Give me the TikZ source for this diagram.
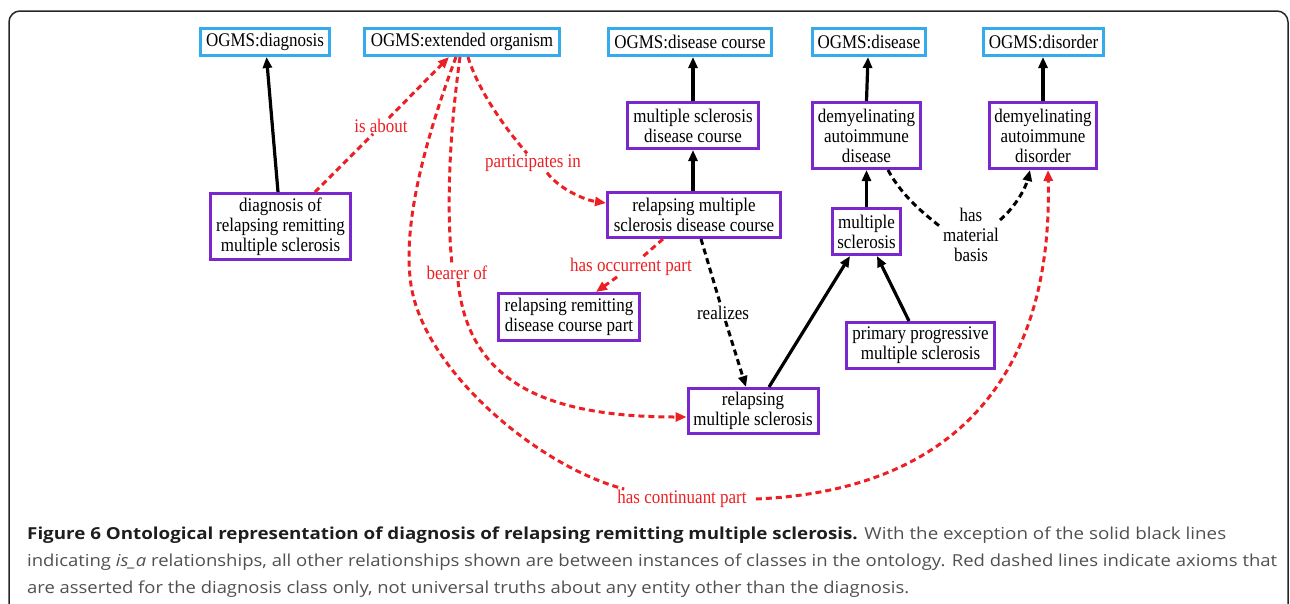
\documentclass[tikz,border=0pt]{standalone}
\usepackage{fontspec}
\setmainfont{Liberation Serif}
\newfontfamily\nodefont[FakeStretch=0.88]{Liberation Serif}
\newfontfamily\capfont{Open Sans}
\usepackage{graphicx}
\usetikzlibrary{arrows.meta}
\definecolor{cyanb}{RGB}{51,171,236}
\definecolor{purp}{RGB}{122,40,206}
\definecolor{redd}{RGB}{236,32,36}
\definecolor{capgray}{RGB}{80,80,80}
\definecolor{capdark}{RGB}{30,30,30}
\newlength{\fitw}
\newcommand{\fitto}[2]{\settowidth{\fitw}{#2}\pgfmathsetmacro{\fitf}{#1/\fitw}\scalebox{\fitf}[1]{#2}}
\begin{document}
\begin{tikzpicture}[x=1pt,y=-1pt,
  box/.style={draw, line width=3pt, inner sep=2pt, align=center, fill=white, font=\nodefont\fontsize{19.3}{20}\selectfont},
  ogbox/.style={box, draw=cyanb},
  clbox/.style={box, draw=purp},
  lab/.style={inner sep=1pt, align=center, font=\nodefont\fontsize{19.3}{20}\selectfont},
  rlab/.style={lab, text=redd},
  isa/.style={line width=3.2pt, draw=black, -{Triangle[length=11pt,width=9pt]}},
  blackdash/.style={line width=3pt, draw=black, dash pattern=on 6pt off 4pt, -{Triangle[length=11pt,width=9pt]}},
  reddash/.style={line width=3pt, draw=redd, dash pattern=on 6pt off 4pt, -{Triangle[length=11pt,width=9pt]}},
  capline/.style={anchor=base west, inner sep=0pt, font=\capfont\fontsize{16.5}{20}\selectfont, text=capgray}
]
\useasboundingbox (0,0) rectangle (1290,603);
\clip (0,0) rectangle (1290,603);
% frame
\draw[line width=1.5pt, draw=black!85, rounded corners=11pt] (9,11) rectangle (1288,660);

% OGMS classes
\node[ogbox, minimum width=129pt, minimum height=27pt] (og_diag) at (265,42) {OGMS:diagnosis};
\node[ogbox, minimum width=195pt, minimum height=27pt] (og_ext) at (462,42) {OGMS:extended organism};
\node[ogbox, minimum width=163pt, minimum height=27pt] (og_dc) at (690,42) {OGMS:disease course};
\node[ogbox, minimum width=113pt, minimum height=27pt] (og_dis) at (869,42) {OGMS:disease};
\node[ogbox, minimum width=120pt, minimum height=27pt] (og_dor) at (1043.5,42) {OGMS:disorder};

% classes
\node[clbox, minimum width=131pt, minimum height=46pt] (msdc) at (693,125.5) {multiple sclerosis\\disease course};
\node[clbox, minimum width=108pt, minimum height=66pt] (dad) at (866.5,135.5) {demyelinating\\autoimmune\\disease};
\node[clbox, minimum width=107pt, minimum height=66pt] (dor) at (1043,135.5) {demyelinating\\autoimmune\\disorder};
\node[clbox, minimum width=140pt, minimum height=66pt] (diag) at (280.5,226.5) {diagnosis of\\relapsing remitting\\multiple sclerosis};
\node[clbox, minimum width=173pt, minimum height=45pt] (rmsdc) at (694,215) {relapsing multiple\\sclerosis disease course};
\node[clbox, minimum width=68pt, minimum height=46pt] (ms) at (866.5,231.5) {multiple\\sclerosis};
\node[clbox, minimum width=141pt, minimum height=47pt] (rrdcp) at (569,317) {relapsing remitting\\disease course part};
\node[clbox, minimum width=148pt, minimum height=46pt] (ppms) at (920.5,345.5) {primary progressive\\multiple sclerosis};
\node[clbox, minimum width=130pt, minimum height=45pt] (rms) at (753,411) {relapsing\\multiple sclerosis};

% labels
\node[rlab] (isabout) at (381,126) {is about};
\node[rlab] (pin) at (533,163) {participates in};
\node[rlab] (bearer) at (457,273) {bearer of};
\node[rlab] (hop) at (631,267) {has occurrent part};
\node[rlab] (hcp) at (682,499) {has continuant part};
\node[lab] (realizes) at (723,313) {realizes};
\node[lab] (hmb) at (971,235) {has\\material\\basis};

% is_a relations
\draw[isa] ([xshift=-2.5pt]diag.north) -- ([xshift=1.5pt]og_diag.south);
\draw[isa] (msdc.north) -- (msdc.north |- og_dc.south);
\draw[isa] ([xshift=-1pt]rmsdc.north) -- (msdc.south);
\draw[isa] (dad.north) -- ([xshift=-1pt]og_dis.south);
\draw[isa] (ms.north) -- (dad.south);
\draw[isa] (dor.north) -- (dor.north |- og_dor.south);
\draw[isa] ([xshift=16pt]rms.north) -- ([xshift=-16.5pt]ms.south);
\draw[isa] ([xshift=-11.5pt]ppms.north) -- ([xshift=10.5pt]ms.south);

% black dashed
\draw[blackdash] ([xshift=7pt]rmsdc.south) -- (realizes) -- ([xshift=-7pt]rms.north);
\draw[blackdash] ([xshift=21.5pt]dad.south) .. controls +(15,28) and +(-15,-12) .. ([yshift=7pt]hmb.west)
  ([yshift=15pt]hmb.east) .. controls +(14,-12) and +(-5,20) .. ([xshift=-13pt]dor.south);

% red dashed
\draw[reddash] ([xshift=34.5pt]diag.north) -- (isabout) -- ([xshift=-13pt]og_ext.south);
\draw[reddash] ([xshift=6pt]og_ext.south) .. controls +(10,33) and +(-22,-25) .. ([xshift=-6pt]pin.north)
  ([xshift=14pt]pin.south) .. controls +(13,17) and +(-21,-3) .. ([yshift=12pt]rmsdc.west);
\draw[reddash] ([xshift=-2pt]og_ext.south) .. controls +(-10,73) and +(-6,-62) .. ([xshift=-5pt]bearer.north)
  ([xshift=1pt]bearer.south) .. controls +(10,98) and +(-146,0) .. ([yshift=-6pt]rms.west);
\draw[reddash] ([xshift=-31pt]rmsdc.south) -- (hop) -- ([xshift=27pt]rrdcp.north);
\draw[reddash] ([xshift=-6pt]og_ext.south) .. controls +(-31,83) and +(-9,-60) .. (411,285)
  .. controls +(13,85) and +(-87,-23) .. ([xshift=8pt]hcp.north west)
  ([xshift=8pt]hcp.east) .. controls +(192,-8) and +(5,213) .. ([xshift=5pt]dor.south);

% caption
\node[capline] (cap1) at (27,539) {\fitto{1199}{\textcolor{capdark}{\textbf{Figure 6 Ontological representation of diagnosis of relapsing remitting multiple sclerosis.}} With the exception of the solid black lines}};
\node[capline] (cap2) at (27,566) {\fitto{1250}{indicating \textit{is\_a} relationships, all other relationships shown are between instances of classes in the ontology. Red dashed lines indicate axioms that}};
\node[capline] (cap3) at (27,593) {\fitto{882}{are asserted for the diagnosis class only, not universal truths about any entity other than the diagnosis.}};
\end{tikzpicture}
\end{document}
